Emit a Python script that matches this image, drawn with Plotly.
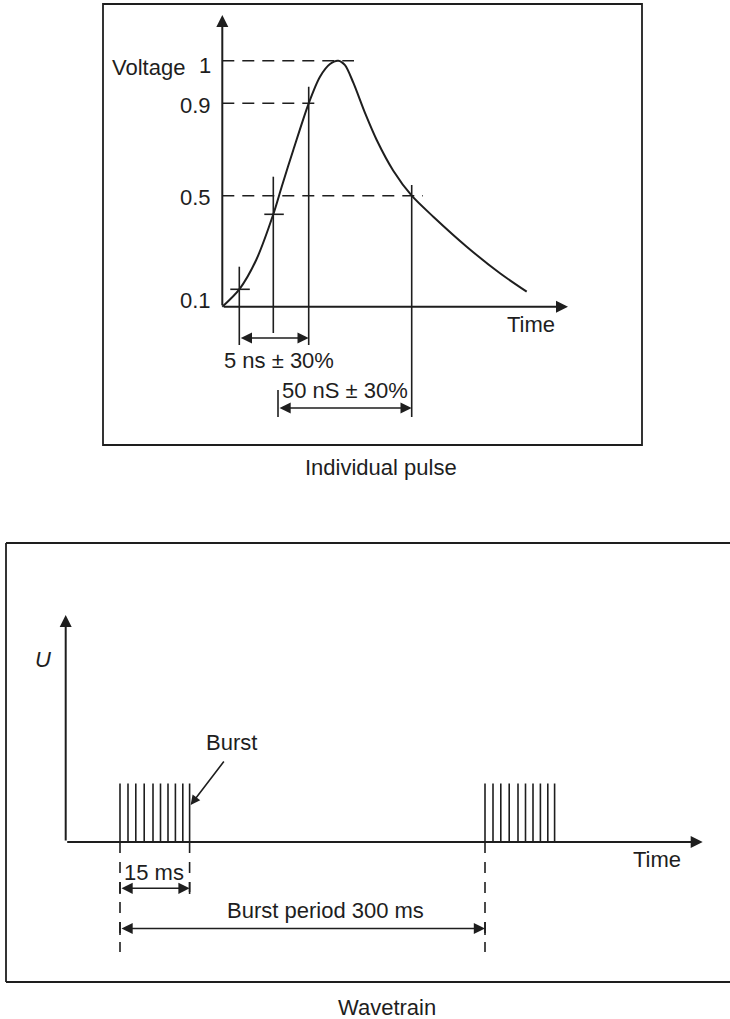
import plotly.graph_objects as go

W, H = 730, 1019
INK = "#1e1e1e"
FONT = "Liberation Sans, Arial, sans-serif"
FS = 22

# ---------------- Individual pulse (schematic units, origin = axes crossing) -------------
pulse_t = [0, 17, 34, 51, 59.4, 71, 86.4, 97.7, 107.7, 116, 122.7, 131, 143, 154.4, 171, 189.4, 211, 244.4, 277.7, 304.4]
pulse_v = [0, 17.4, 47, 92.4, 120, 156.7, 203.4, 230, 242.7, 246, 241.5, 224, 193, 166.7, 136, 111, 90, 60, 33.4, 15]

level_labels = ["1", "0.9", "0.5", "0.1"]
level_heights = [246, 203.4, 111, 17.4]
level_cross_t = [116, 86.4, 189.4, 17]        # where the curve meets each level

rise_cross = [(17, 17.4), (51, 92.4)]          # tick crosses on the rising edge
rise_label = "5 ns \u00b1 30%"
width_label = "50 nS \u00b1 30%"

# ---------------- Wavetrain (schematic units, origin = axes crossing) -------------------
burst_starts = [54.3, 419.3]
pulse_offsets = [0, 8, 15.8, 24.2, 33, 40.5, 48, 55.4, 62.8, 69.6]
pulse_height = 58.5
burst_label = "Burst"
burst_len_label = "15 ms"
period_label = "Burst period 300 ms"

# ---------------- layout geometry (pixels) ----------------
top_box = (103, 642, 4, 445)        # left, right, top, bottom
top_origin = (222.3, 306.7)
bot_box = (6, 730, 543, 982)
bot_origin = (65.7, 842)


def px_domain(box):
    l, r, t, b = box
    return [l / W, min(r / W, 1.0)], [1 - b / H, 1 - t / H]


def px_range(box, origin):
    l, r, t, b = box
    ox, oy = origin
    return [l - ox, min(r, W) - ox], [oy - b, oy - t]


fig = go.Figure()


def seg(xs, ys, xa, ya, width=1.6, dash=None):
    fig.add_trace(go.Scatter(x=xs, y=ys, xaxis=xa, yaxis=ya, mode="lines",
                             line=dict(color=INK, width=width, dash=dash),
                             hoverinfo="skip", showlegend=False))


def arrow(x, y, ax, ay, xa, ya, both=False, size=1.0, width=1.6):
    fig.add_annotation(x=x, y=y, ax=ax, ay=ay, xref=xa, yref=ya, axref=xa, ayref=ya,
                       text="", showarrow=True, arrowhead=2, arrowsize=size,
                       arrowwidth=width, arrowcolor=INK, standoff=0, startstandoff=0,
                       arrowside="end+start" if both else "end", startarrowhead=2,
                       startarrowsize=size)


def label(x, y, text, xa, ya, xanchor="center", size=FS, italic=False):
    fig.add_annotation(x=x, y=y, xref=xa, yref=ya, text=text, showarrow=False,
                       xanchor=xanchor, yanchor="middle",
                       font=dict(family=FONT, size=size, color=INK,
                                 style="italic" if italic else "normal"))


# ================= Top panel =================
xa, ya = "x", "y"
fig.add_trace(go.Scatter(x=pulse_t, y=pulse_v, mode="lines", xaxis=xa, yaxis=ya,
                         line=dict(color=INK, width=2, shape="spline", smoothing=0.8),
                         hoverinfo="skip", showlegend=False))
overshoot = [15.7, 9.3, 11.3]
for h, tc, o in zip(level_heights[:3], level_cross_t[:3], overshoot):
    seg([0, tc + o], [h, h], xa, ya, width=1.6, dash="12px,8px")
for txt, h in zip(level_labels, level_heights):
    off = {"1": -5, "0.1": -10.7}.get(txt, -2)
    label(-9.5, h + off, txt, xa, ya, xanchor="right")
label(-35.3, 238.7, "Voltage", xa, ya, xanchor="right")
for (tc, vc) in rise_cross:
    seg([tc - 9, tc + 10.5], [vc, vc], xa, ya)
seg([17, 17], [40, -38.3], xa, ya)
seg([51, 51], [130, -26.3], xa, ya)
seg([86.4, 86.4], [220, -38.3], xa, ya)
seg([189.4, 189.4], [121.7, -110.3], xa, ya)
seg([55.7, 55.7], [-83.3, -110.3], xa, ya)
arrow(0, 291.7, 0, 0, xa, ya, size=1.2, width=2)
arrow(345.7, 0, 0, 0, xa, ya, size=1.2, width=2)
label(308.7, -17.8, "Time", xa, ya)
arrow(86.4, -31.3, 17, -31.3, xa, ya, both=True, size=1.4)
label(56.7, -53.3, rise_label, xa, ya)
arrow(189.4, -101.3, 55.7, -101.3, xa, ya, both=True, size=1.4)
label(122.7, -83.3, width_label, xa, ya)

# ================= Bottom panel =================
xb, yb = "x2", "y2"
px, py = [], []
for s in burst_starts:
    for o in pulse_offsets:
        px += [s + o, s + o, None]
        py += [0, pulse_height, None]
fig.add_trace(go.Scatter(x=px, y=py, mode="lines", xaxis=xb, yaxis=yb,
                         line=dict(color=INK, width=1.6), hoverinfo="skip", showlegend=False))
for s in burst_starts:
    seg([s, s], [0, -110], xb, yb, width=1.6, dash="11px,9px")
end1 = burst_starts[0] + pulse_offsets[-1]
seg([end1, end1], [0, -50], xb, yb, width=1.6, dash="11px,9px")
arrow(0, 227, 0, 0, xb, yb, size=1.2, width=2)
arrow(637, 0, 0, 0, xb, yb, size=1.2, width=2)
label(591.3, -17.5, "Time", xb, yb)
label(-23.2, 182.5, "U", xb, yb, italic=True)
arrow(end1 + 1, 37, 159.3, 82, xb, yb, size=1.2, width=1.6)
label(165.3, 99.5, burst_label, xb, yb)
arrow(end1, -46.3, burst_starts[0], -46.3, xb, yb, both=True, size=1.4)
for x in (burst_starts[0], end1):
    seg([x, x], [-40, -52], xb, yb)
label(88.3, -30.5, burst_len_label, xb, yb)
arrow(burst_starts[1], -86.5, burst_starts[0], -86.5, xb, yb, both=True, size=1.4)
for x in burst_starts:
    seg([x, x], [-80, -93], xb, yb)
label(259.3, -68, period_label, xb, yb)

# ================= frames & captions =================
l, r, t, b = top_box
fig.add_shape(type="rect", xref="paper", yref="paper",
              x0=l / W, x1=r / W, y0=1 - b / H, y1=1 - t / H,
              line=dict(color=INK, width=1.8), fillcolor="rgba(0,0,0,0)")
l, r, t, b = bot_box
y0p, y1p = 1 - b / H, 1 - t / H
for (x0, y0, x1, y1) in [(l / W, y1p, 1.2, y1p), (l / W, y0p, l / W, y1p), (l / W, y0p, 1.2, y0p)]:
    fig.add_shape(type="line", xref="paper", yref="paper", x0=x0, y0=y0, x1=x1, y1=y1,
                  line=dict(color=INK, width=1.8))
fig.add_annotation(x=381 / W, y=1 - 467 / H, xref="paper", yref="paper", text="Individual pulse",
                   showarrow=False, xanchor="center", yanchor="middle",
                   font=dict(family=FONT, size=FS, color=INK))
fig.add_annotation(x=387 / W, y=1 - 1007 / H, xref="paper", yref="paper", text="Wavetrain",
                   showarrow=False, xanchor="center", yanchor="middle",
                   font=dict(family=FONT, size=FS, color=INK))

tdx, tdy = px_domain(top_box)
trx, try_ = px_range(top_box, top_origin)
bdx, bdy = px_domain(bot_box)
brx, bry = px_range(bot_box, bot_origin)
ax_common = dict(visible=False, fixedrange=True, showgrid=False, zeroline=False)
fig.update_layout(
    width=W, height=H, margin=dict(l=0, r=0, t=0, b=0),
    paper_bgcolor="white", plot_bgcolor="rgba(0,0,0,0)",
    xaxis=dict(domain=tdx, range=trx, anchor="y", **ax_common),
    yaxis=dict(domain=tdy, range=try_, anchor="x", **ax_common),
    xaxis2=dict(domain=bdx, range=brx, anchor="y2", **ax_common),
    yaxis2=dict(domain=bdy, range=bry, anchor="x2", **ax_common),
    showlegend=False,
)
fig.write_html("out.html", config={"displayModeBar": False, "staticPlot": True},
               post_script="document.body.style.margin='0px';document.body.style.overflow='hidden';")
